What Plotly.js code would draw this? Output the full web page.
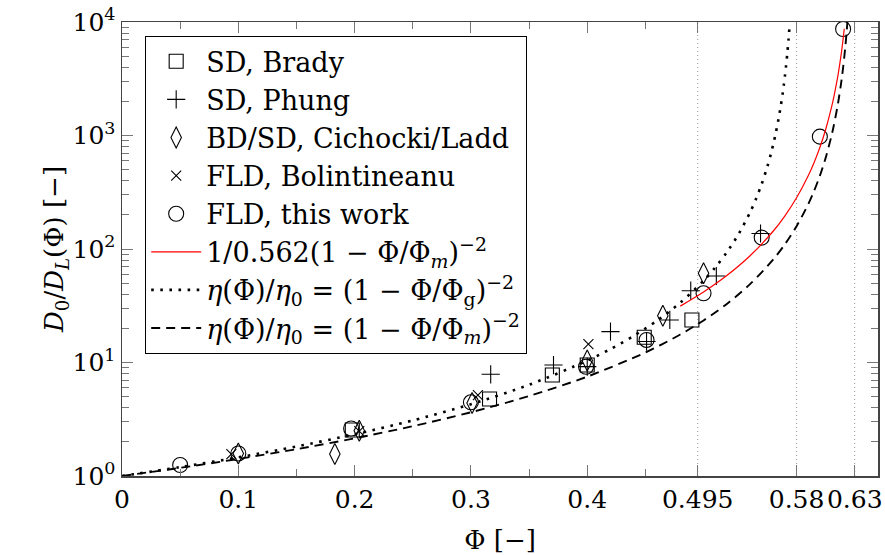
<!DOCTYPE html>
<html>
<head>
<meta charset="utf-8">
<script src="https://cdn.plot.ly/plotly-3.0.1.min.js"></script>
<style>html,body{margin:0;padding:0;background:#fff;}#chart{width:885px;height:555px;}</style>
</head>
<body>
<div id="chart"></div>
<script>
// ---- data ----
const phiBrady = [0.198, 0.316, 0.370, 0.400, 0.449, 0.490];
const dBrady   = [2.54, 4.77, 7.76, 9.5, 16.7, 23.7];

const phiPhung = [0.317, 0.371, 0.400, 0.420, 0.451, 0.471, 0.489, 0.511, 0.549];
const dPhung   = [7.87, 9.5, 9.2, 18.7, 15.3, 23.7, 42.9, 57.8, 137];

const phiCL = [0.100, 0.183, 0.204, 0.301, 0.400, 0.465, 0.500];
const dCL   = [1.58, 1.56, 2.51, 4.4, 10.4, 25.8, 61.1];

const phiBol = [0.094, 0.204, 0.306, 0.401];
const dBol   = [1.56, 2.48, 5.17, 14.5];

const phiFLD = [0.050, 0.100, 0.197, 0.300, 0.399, 0.451, 0.500, 0.550, 0.600, 0.620];
const dFLD   = [1.25, 1.58, 2.62, 4.46, 9.18, 15.8, 40.7, 126, 977, 8670];

const phiRed = [0.48, 0.50, 0.52, 0.54, 0.56, 0.57, 0.58, 0.59, 0.595, 0.60, 0.605, 0.61, 0.612, 0.615, 0.616, 0.618, 0.619, 0.62, 0.621];
const dRed   = [31.39, 41.79, 58.36, 87.19, 144.1, 196.2, 282.6, 441.5, 576.5, 784.7, 1129.9, 1765.6, 2180, 3138.8, 3603, 4904, 5836, 7062, 8719];

const phiGlass = [0, 0.05, 0.10, 0.15, 0.20, 0.25, 0.30, 0.35, 0.40, 0.42, 0.44, 0.46, 0.48, 0.50, 0.51, 0.52, 0.53, 0.54, 0.545, 0.55, 0.555, 0.558, 0.56, 0.562, 0.565, 0.566, 0.568, 0.569, 0.57, 0.571, 0.572, 0.573, 0.574];
const dGlass   = [1, 1.1976, 1.46, 1.8194, 2.3296, 3.089, 4.2908, 6.3592, 10.383, 13.141, 17.163, 23.36, 33.64, 52.56, 68.65, 93.44, 134.56, 210.25, 274.6, 373.8, 538.2, 695, 841, 1038, 1495.1, 1716, 2336, 2780, 3364, 4153, 5256, 6865, 9344];

const phiMax = [0, 0.05, 0.10, 0.15, 0.20, 0.25, 0.30, 0.35, 0.40, 0.45, 0.48, 0.50, 0.52, 0.54, 0.56, 0.57, 0.58, 0.59, 0.595, 0.60, 0.605, 0.61, 0.612, 0.615, 0.616, 0.618, 0.619, 0.62, 0.621, 0.622, 0.623, 0.624];
const dMax   = [1, 1.1799, 1.413, 1.7227, 2.1466, 2.7487, 3.6446, 5.0625, 7.503, 12.25, 17.64, 23.485, 32.8, 49.0, 81.0, 110.25, 158.8, 248.1, 324, 441, 635, 992.25, 1225, 1764, 2025, 2756, 3280, 3969, 4900, 6202, 8100, 11025];

const xMajorTicks = [0, 0.1, 0.2, 0.3, 0.4, 0.495, 0.58, 0.63];
const xMajorLabels = ['0', '0.1', '0.2', '0.3', '0.4', '0.495', '0.58', '0.63'];
const xMinorTicks = [0.05, 0.15, 0.25, 0.35, 0.45];
const refLines = [0.495, 0.58, 0.63];

const yMajorTicks = [1, 10, 100, 1000, 10000];
const yMajorLabels = ['10<sup>0</sup>', '10<sup>1</sup>', '10<sup>2</sup>', '10<sup>3</sup>', '10<sup>4</sup>'];
const yMinorTicks = [2,3,4,5,6,7,8,9,20,30,40,50,60,70,80,90,200,300,400,500,600,700,800,900,2000,3000,4000,5000,6000,7000,8000,9000];

const labels = {
  brady: 'SD, Brady',
  phung: 'SD, Phung',
  cl: 'BD/SD, Cichocki/Ladd',
  bol: 'FLD, Bolintineanu',
  fld: 'FLD, this work',
  red: '1/0.562(1 − Φ/Φ<sub><i>m</i></sub>)<sup>−2</sup>',
  glass: '<i>η</i>(Φ)/<i>η</i><sub>0</sub> = (1 − Φ/Φ<sub>g</sub>)<sup>−2</sup>',
  max: '<i>η</i>(Φ)/<i>η</i><sub>0</sub> = (1 − Φ/Φ<sub><i>m</i></sub>)<sup>−2</sup>'
};

const FONT = 'DejaVu Serif';
const mk = (sym, size) => ({symbol: sym, size: size, color: '#000', line: {color: '#000', width: 1.1}});

const traces = [
  {x: phiBrady, y: dBrady, name: labels.brady, mode: 'markers', type: 'scatter', marker: mk('square-open', 14)},
  {x: phiPhung, y: dPhung, name: labels.phung, mode: 'markers', type: 'scatter', marker: mk('cross-thin-open', 13)},
  {x: phiCL, y: dCL, name: labels.cl, mode: 'markers', type: 'scatter', marker: mk('diamond-tall-open', 15)},
  {x: phiBol, y: dBol, name: labels.bol, mode: 'markers', type: 'scatter', marker: mk('x-thin-open', 10)},
  {x: phiFLD, y: dFLD, name: labels.fld, mode: 'markers', type: 'scatter', marker: mk('circle-open', 15)},
  {x: phiRed, y: dRed, name: labels.red, mode: 'lines', type: 'scatter', line: {color: '#ff0000', width: 1.2, shape: 'spline', smoothing: 0.8}},
  {x: phiGlass, y: dGlass, name: labels.glass, mode: 'lines', type: 'scatter', line: {color: '#000', width: 2.6, dash: '2.6px,6.5px', shape: 'spline', smoothing: 0.8}},
  {x: phiMax, y: dMax, name: labels.max, mode: 'lines', type: 'scatter', line: {color: '#000', width: 1.9, dash: '9px,6px', shape: 'spline', smoothing: 0.8}}
];

const shapes = refLines.map(v => ({
  type: 'line', xref: 'x', yref: 'paper', x0: v, x1: v, y0: 0, y1: 1,
  line: {color: '#9a9a9a', width: 1, dash: '1px,3px'}, layer: 'below'
}));

const layout = {
  width: 885, height: 555, autosize: false,
  margin: {l: 122, r: 7, t: 22, b: 79, pad: 0},
  paper_bgcolor: '#fff', plot_bgcolor: '#fff',
  font: {family: FONT, size: 26, color: '#000'},
  showlegend: true,
  shapes: shapes,
  xaxis: {
    range: [0, 0.65], showgrid: false, zeroline: false,
    showline: true, linecolor: '#444', linewidth: 1.5, mirror: 'allticks',
    tickmode: 'array', tickvals: xMajorTicks, ticktext: xMajorLabels, tickangle: 0,
    ticks: 'inside', ticklen: 11, tickwidth: 1, tickcolor: '#777',
    tickfont: {family: FONT, size: 25, color: '#000'},
    ticklabeloverflow: 'allow',
    minor: {tickmode: 'array', tickvals: xMinorTicks, ticks: 'inside', ticklen: 7, tickwidth: 1, tickcolor: '#777'},
    title: {text: 'Φ [−]', font: {family: FONT, size: 26, color: '#000'}, standoff: 18},
    automargin: false
  },
  yaxis: {
    type: 'log', range: [0, 4], showgrid: false, zeroline: false,
    showline: true, linecolor: '#444', linewidth: 1.5, mirror: 'allticks',
    tickmode: 'array', tickvals: yMajorTicks, ticktext: yMajorLabels,
    ticks: 'inside', ticklen: 11, tickwidth: 1, tickcolor: '#777',
    tickfont: {family: FONT, size: 25, color: '#000'},
    minor: {tickmode: 'array', tickvals: yMinorTicks, ticks: 'inside', ticklen: 7, tickwidth: 1, tickcolor: '#777'},
    title: {text: '<i>D</i><sub>0</sub>/<i>D</i><sub><i>L</i></sub>(Φ) [−]', font: {family: FONT, size: 26, color: '#000'}, standoff: 0},
    automargin: false
  },
  legend: {
    x: 0.0304, y: 0.969, xanchor: 'left', yanchor: 'top',
    bgcolor: '#fff', bordercolor: '#000', borderwidth: 1.2,
    font: {family: FONT, size: 27, color: '#000'},
    tracegroupgap: 0, itemwidth: 50
  }
};

Plotly.newPlot('chart', traces, layout, {displayModeBar: false, staticPlot: true});
</script>
</body>
</html>
